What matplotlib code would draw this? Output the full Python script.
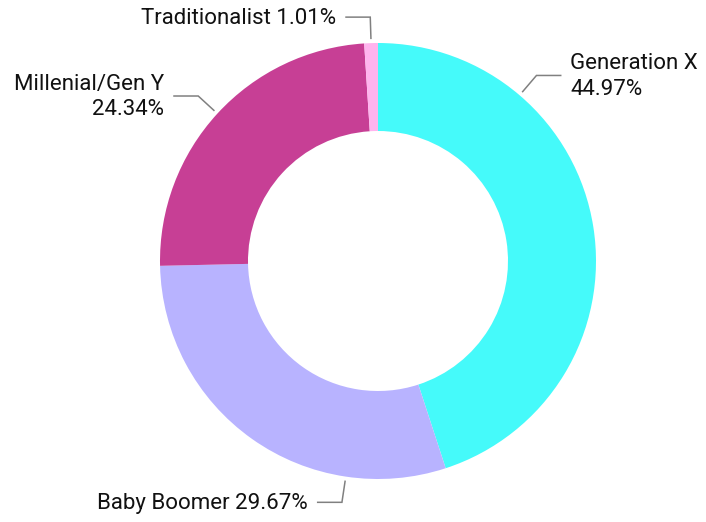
import numpy as np
import matplotlib.pyplot as plt

plt.rcParams['font.family'] = ['Roboto', 'DejaVu Sans']

categories = ['Generation X', 'Baby Boomer', 'Millenial/Gen Y', 'Traditionalist']
shares = [44.97, 29.67, 24.34, 1.01]
colors = ['#45FAFA', '#B8B3FF', '#C73F95', '#FFB4EE']

# label layout: two-line labels for the side slices, one line for the others
two_line = [True, False, True, False]
# angle (deg clockwise from top) where each leader line leaves the ring, None = slice middle
leader_angle = [40.5, 188.5, None, None]

W, H = 706, 522
cx, cy = 378, 261
R_OUT, R_IN = 218, 130

fig = plt.figure(figsize=(W / 100, H / 100), dpi=100)
ax = fig.add_axes([0, 0, 1, 1])
ax.set_xlim(0, W)
ax.set_ylim(0, H)
ax.set_aspect('equal')
ax.axis('off')

ax.pie(shares, colors=colors, startangle=90, counterclock=False,
       center=(cx, cy), radius=R_OUT,
       wedgeprops=dict(width=R_OUT - R_IN, linewidth=0))
ax.set_xlim(0, W)
ax.set_ylim(0, H)

cum = np.cumsum([0] + shares) / sum(shares) * 360
for i, name in enumerate(categories):
    a = leader_angle[i]
    if a is None:
        a = (cum[i] + cum[i + 1]) / 2
    t = np.deg2rad(a)
    sx, sy = np.sin(t), np.cos(t)
    x0, y0 = cx + 222 * sx, cy + 222 * sy
    x1, y1 = cx + 244 * sx, cy + 244 * sy
    side = 1 if sx > 0.02 else -1
    x2 = x1 + side * 25
    ax.plot([x0, x1, x2], [y0, y1, y1], color='#808080', lw=1.1,
            solid_capstyle='butt', solid_joinstyle='miter')
    pct = f'{shares[i]:.2f}%'
    txt = f'{name}\n{pct}' if two_line[i] else f'{name} {pct}'
    ax.text(x2 + side * 9, y1 - 1, txt, ha='left' if side > 0 else 'right',
            va='center', fontsize=16, color='#111111',
            linespacing=1.3, multialignment='left' if side > 0 else 'right')

fig.savefig('out.png', dpi=100)
